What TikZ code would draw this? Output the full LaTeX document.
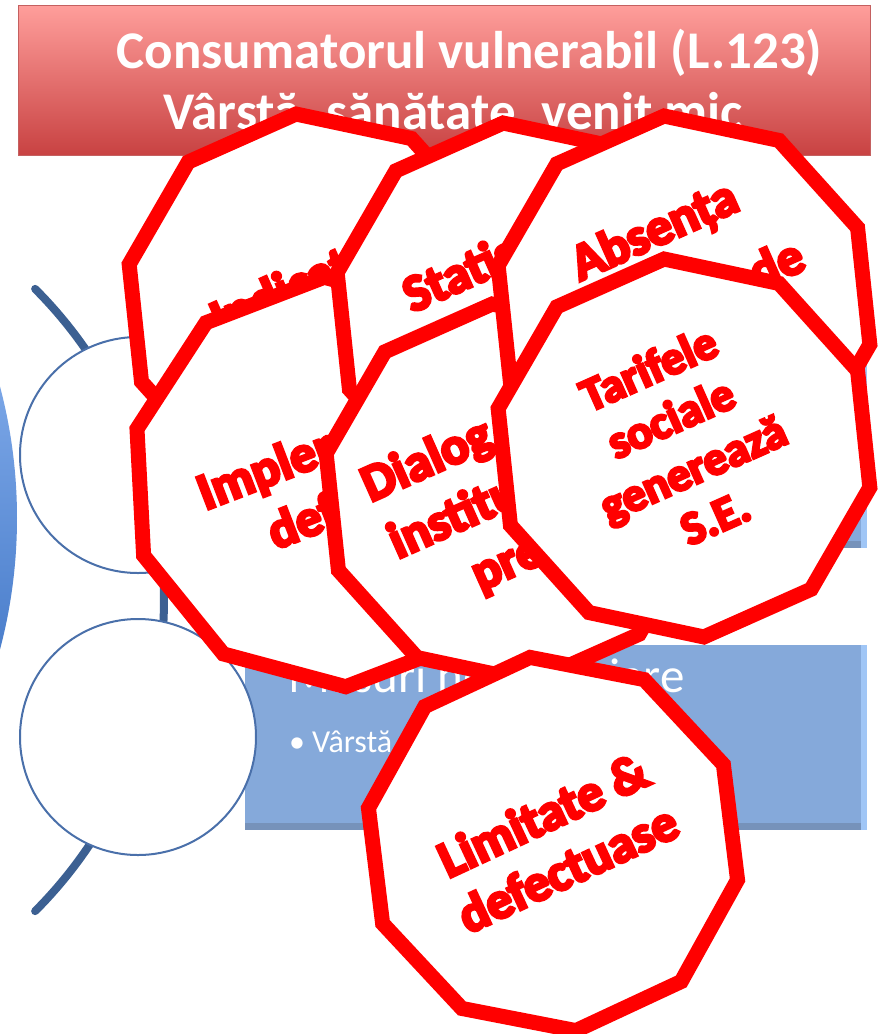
\documentclass[tikz,border=0pt]{standalone}
\usepackage{fontspec}
\setmainfont{Carlito}
\newfontfamily\heavy{Carlito}[BoldFeatures={FakeBold=6}]
\usetikzlibrary{shapes.geometric}
\definecolor{redline}{RGB}{255,0,0}
\definecolor{titletop}{RGB}{255,158,155}
\definecolor{titlebot}{RGB}{200,66,66}
\definecolor{titleedge}{RGB}{196,96,96}
\definecolor{boxblue}{RGB}{133,169,218}
\definecolor{boxlight}{RGB}{160,198,246}
\definecolor{boxdark}{RGB}{118,146,186}
\definecolor{arcblue}{RGB}{60,96,146}
\definecolor{ringblue}{RGB}{74,112,170}
\definecolor{bigtop}{RGB}{125,168,232}
\definecolor{bigbot}{RGB}{72,124,202}
\tikzset{
  deca/.style={regular polygon, regular polygon sides=10, draw=redline, line width=15pt, fill=white, inner sep=0pt, outer sep=0pt},
  warn/.style={anchor=base, text=redline, font=\heavy\bfseries\fontsize{52}{62}\selectfont, inner sep=0pt},
  warnsm/.style={warn, font=\heavy\bfseries\fontsize{47}{55}\selectfont},
  titlebox/.style={rectangle, minimum width=852pt, minimum height=150pt, inner sep=0pt, top color=titletop, bottom color=titlebot, draw=titleedge, line width=1pt},
  titletext/.style={anchor=base, text=white, font=\bfseries\fontsize{53}{62}\selectfont, inner sep=0pt},
  bluebox/.style={rectangle, minimum width=622pt, minimum height=185pt, inner sep=0pt, fill=boxblue},
  ring/.style={circle, minimum size=236pt, inner sep=0pt, draw=ringblue, line width=2pt, fill=white},
  arcline/.style={draw=arcblue, line width=8pt, line cap=round},
  boxhead/.style={anchor=base west, text=white, font=\fontsize{49}{58}\selectfont, inner sep=0pt},
  boxitem/.style={anchor=base west, text=white, font=\fontsize{32}{38}\selectfont, inner sep=0pt}
}
\begin{document}
\begin{tikzpicture}[x=1pt,y=-1pt]
\useasboundingbox (0,0) rectangle (882,1034);
\fill[white] (0,0) rectangle (882,1034);
% large circle at left edge
\begin{scope}
  \clip (-496,518) circle (513pt);
  \shade[top color=bigtop, bottom color=bigbot] (-20,370) rectangle (40,670);
\end{scope}
% arc
\draw[arcline] plot[domain=-45:45, samples=90] ({-276+440*cos(\x)},{600+440*sin(\x)});
% boxes
\node[bluebox] (box1) at (556,455.5) {};
\fill[boxlight] (box1.north east) rectangle ([xshift=-6pt]box1.south east);
\fill[boxdark] ([yshift=7pt]box1.south west) rectangle ([xshift=-6pt]box1.south east);
\node[bluebox] (box2) at (556,737.5) {};
\fill[boxlight] (box2.north east) rectangle ([xshift=-6pt]box2.south east);
\fill[boxdark] ([yshift=7pt]box2.south west) rectangle ([xshift=-6pt]box2.south east);
\node[boxhead] (box2h) at (288,692) {Măsuri nefinanciare};
\node[boxitem] (box2i) at (289,752) {•\hspace{7pt}Vârstă};
% circles
\node[ring] (c1) at (138,455) {};
\node[ring] (c2) at (138,737) {};
% title
\node[titlebox] (title) at (444,80) {};
\node[titletext] (title1) at (469.5,68) {Consumatorul vulnerabil (L.123)};
\node[titletext] (title2) at (453,129) {Vârstă, sănătate, venit mic};
% decagons
\node[deca, minimum size=382pt, rotate=24] (ind) at (316,304) {};
\begin{scope}[shift={(316,304)}, rotate=24, transform shape]
  \node[warn] (ind1) at (2,-9) {Indicatori};
\end{scope}
\node[deca, minimum size=410pt, rotate=21] (imp) at (335,482) {};
\begin{scope}[shift={(335,482)}, rotate=21, transform shape]
  \node[warn] (imp1) at (22,-20) {Implementare};
  \node[warn] (imp2) at (22,42) {deficitară};
\end{scope}
\node[deca, minimum size=380pt, rotate=24] (sta) at (523,312) {};
\begin{scope}[shift={(523,312)}, rotate=24, transform shape]
  \node[warn] (sta1) at (-10,-44) {Statistici};
\end{scope}
\node[deca, minimum size=380pt, rotate=24] (dia) at (512,493) {};
\begin{scope}[shift={(512,493)}, rotate=24, transform shape]
  \node[warn] (dia1) at (0,-49) {Dialog inter-};
  \node[warn] (dia2) at (0,14) {instituțional};
  \node[warn] (dia3) at (0,77) {precar};
\end{scope}
\node[deca, minimum size=380pt, rotate=24] (abs) at (684,305) {};
\begin{scope}[shift={(684,305)}, rotate=24, transform shape]
  \node[warn] (abs1) at (3,-64) {Absența};
  \node[warn] (abs2) at (-8,17) {unei baze de};
  \node[warn] (abs3) at (-8,80) {date};
\end{scope}
\node[deca, minimum size=380pt, rotate=24] (tar) at (684,448) {};
\begin{scope}[shift={(684,448)}, rotate=24, transform shape]
  \node[warnsm] (tar1) at (0,-71) {Tarifele};
  \node[warnsm] (tar2) at (0,-17) {sociale};
  \node[warnsm] (tar3) at (0,38) {generează};
  \node[warnsm] (tar4) at (0,92) {S.E.};
\end{scope}
\node[deca, minimum size=376pt, rotate=25] (lim) at (553,844) {};
\begin{scope}[shift={(553,844)}, rotate=25, transform shape]
  \node[warn] (lim1) at (3,-13) {Limitate \&};
  \node[warn] (lim2) at (3,46) {defectuase};
\end{scope}
\end{tikzpicture}
\end{document}
